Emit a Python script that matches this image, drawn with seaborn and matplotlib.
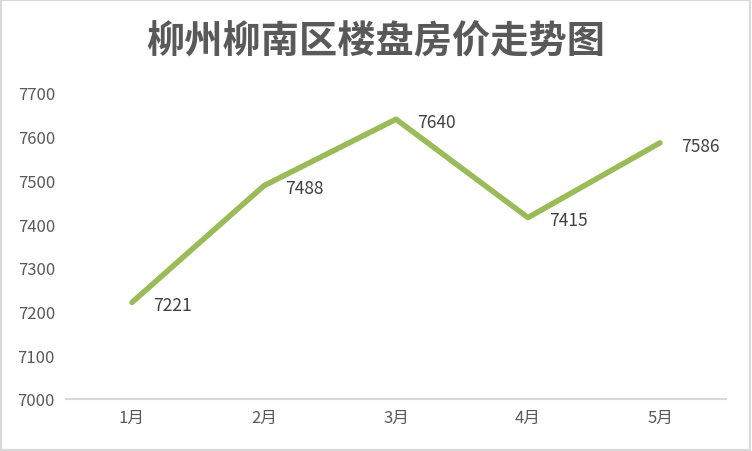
import matplotlib
import pandas as pd
import seaborn as sns
from matplotlib import pyplot as plt
from matplotlib.patches import Rectangle

matplotlib.use('agg')

months = ['1月', '2月', '3月', '4月', '5月']
prices = [7221, 7488, 7640, 7415, 7586]
y_ticks = [7000, 7100, 7200, 7300, 7400, 7500, 7600, 7700]

sns.set_theme(style="white")
plt.rcParams['font.family'] = ['Noto Sans CJK SC', 'DejaVu Sans']

df = pd.DataFrame({"month": months, "price": prices})

fig = plt.figure(figsize=(7.52, 4.52), dpi=100)
ax = fig.add_axes([66 / 752, 1 - 400 / 452, 660 / 752, 306 / 452])

sns.lineplot(data=df, x="month", y="price", ax=ax, color="#9BBB59",
             linewidth=4, sort=False)

# data labels
for i, v in enumerate(prices):
    ax.annotate(f"{v}", (i, v), xytext=(15, -2), textcoords="offset points",
                ha="left", va="center", fontsize=12.5, color="#404040")

ax.set_xlim(-0.5, len(months) - 0.5)
ax.set_ylim(7000, 7700)
ax.set_yticks(y_ticks)
ax.set_xlabel("")
ax.set_ylabel("")
ax.tick_params(axis="both", length=0, labelsize=12, labelcolor="#595959")
ax.tick_params(axis="y", pad=8)
ax.tick_params(axis="x", pad=7)
for side in ["top", "right", "left"]:
    ax.spines[side].set_visible(False)
ax.spines["bottom"].set_color("#d9d9d9")
ax.spines["bottom"].set_linewidth(1.5)

fig.text(0.5, 1 - 42 / 452, "柳州柳南区楼盘房价走势图", ha="center", va="center",
         fontsize=27.5, fontweight="bold", color="#595959")

# chart border
fig.patches.append(Rectangle((0.001, 0.002), 0.997, 0.995, transform=fig.transFigure,
                             fill=False, edgecolor="#d9d9d9", linewidth=1.5))

plt.savefig("out.png", dpi=100)
plt.close()
